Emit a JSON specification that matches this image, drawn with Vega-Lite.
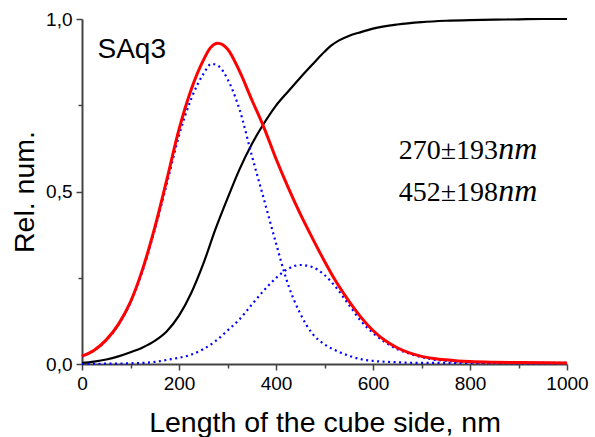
{
  "$schema": "https://vega.github.io/schema/vega-lite/v6.json",
  "width": 485,
  "height": 345,
  "autosize": "none",
  "padding": {"left": 82, "top": 19, "right": 28, "bottom": 73},
  "background": "white",
  "config": {"view": {"stroke": null}},
  "datasets": {
    "curves": [
      {"s": "cdf", "x": 0, "y": 0.003}, {"s": "cdf", "x": 25, "y": 0.007}, {"s": "cdf", "x": 50, "y": 0.013}, {"s": "cdf", "x": 75, "y": 0.022}, {"s": "cdf", "x": 100, "y": 0.034}, {"s": "cdf", "x": 125, "y": 0.048}, {"s": "cdf", "x": 150, "y": 0.067}, {"s": "cdf", "x": 175, "y": 0.095}, {"s": "cdf", "x": 200, "y": 0.14}, {"s": "cdf", "x": 225, "y": 0.205}, {"s": "cdf", "x": 250, "y": 0.29}, {"s": "cdf", "x": 275, "y": 0.39}, {"s": "cdf", "x": 300, "y": 0.48}, {"s": "cdf", "x": 325, "y": 0.565}, {"s": "cdf", "x": 350, "y": 0.637}, {"s": "cdf", "x": 375, "y": 0.697}, {"s": "cdf", "x": 400, "y": 0.749}, {"s": "cdf", "x": 425, "y": 0.79}, {"s": "cdf", "x": 450, "y": 0.83}, {"s": "cdf", "x": 475, "y": 0.868}, {"s": "cdf", "x": 500, "y": 0.905}, {"s": "cdf", "x": 515, "y": 0.924}, {"s": "cdf", "x": 530, "y": 0.938}, {"s": "cdf", "x": 550, "y": 0.951}, {"s": "cdf", "x": 575, "y": 0.962}, {"s": "cdf", "x": 600, "y": 0.972}, {"s": "cdf", "x": 650, "y": 0.984}, {"s": "cdf", "x": 700, "y": 0.991}, {"s": "cdf", "x": 750, "y": 0.995}, {"s": "cdf", "x": 800, "y": 0.997}, {"s": "cdf", "x": 850, "y": 0.998}, {"s": "cdf", "x": 900, "y": 0.999}, {"s": "cdf", "x": 950, "y": 1.0}, {"s": "cdf", "x": 1000, "y": 1.0},
      {"s": "p1", "x": 0, "y": 0.022}, {"s": "p1", "x": 25, "y": 0.039}, {"s": "p1", "x": 50, "y": 0.069}, {"s": "p1", "x": 75, "y": 0.113}, {"s": "p1", "x": 100, "y": 0.178}, {"s": "p1", "x": 125, "y": 0.27}, {"s": "p1", "x": 150, "y": 0.389}, {"s": "p1", "x": 175, "y": 0.523}, {"s": "p1", "x": 200, "y": 0.662}, {"s": "p1", "x": 225, "y": 0.768}, {"s": "p1", "x": 250, "y": 0.84}, {"s": "p1", "x": 267, "y": 0.87}, {"s": "p1", "x": 282, "y": 0.863}, {"s": "p1", "x": 300, "y": 0.826}, {"s": "p1", "x": 325, "y": 0.737}, {"s": "p1", "x": 350, "y": 0.605}, {"s": "p1", "x": 375, "y": 0.478}, {"s": "p1", "x": 400, "y": 0.35}, {"s": "p1", "x": 425, "y": 0.23}, {"s": "p1", "x": 450, "y": 0.146}, {"s": "p1", "x": 475, "y": 0.088}, {"s": "p1", "x": 500, "y": 0.057}, {"s": "p1", "x": 525, "y": 0.038}, {"s": "p1", "x": 550, "y": 0.024}, {"s": "p1", "x": 575, "y": 0.014}, {"s": "p1", "x": 600, "y": 0.009}, {"s": "p1", "x": 650, "y": 0.005}, {"s": "p1", "x": 700, "y": 0.003}, {"s": "p1", "x": 800, "y": 0.003}, {"s": "p1", "x": 900, "y": 0.003}, {"s": "p1", "x": 1000, "y": 0.003},
      {"s": "p2", "x": 0, "y": 0.0}, {"s": "p2", "x": 50, "y": 0.001}, {"s": "p2", "x": 100, "y": 0.002}, {"s": "p2", "x": 150, "y": 0.006}, {"s": "p2", "x": 175, "y": 0.012}, {"s": "p2", "x": 200, "y": 0.018}, {"s": "p2", "x": 225, "y": 0.027}, {"s": "p2", "x": 250, "y": 0.043}, {"s": "p2", "x": 275, "y": 0.066}, {"s": "p2", "x": 300, "y": 0.097}, {"s": "p2", "x": 325, "y": 0.13}, {"s": "p2", "x": 350, "y": 0.172}, {"s": "p2", "x": 375, "y": 0.213}, {"s": "p2", "x": 400, "y": 0.249}, {"s": "p2", "x": 425, "y": 0.276}, {"s": "p2", "x": 450, "y": 0.287}, {"s": "p2", "x": 475, "y": 0.281}, {"s": "p2", "x": 500, "y": 0.258}, {"s": "p2", "x": 525, "y": 0.22}, {"s": "p2", "x": 550, "y": 0.172}, {"s": "p2", "x": 575, "y": 0.125}, {"s": "p2", "x": 600, "y": 0.09}, {"s": "p2", "x": 625, "y": 0.063}, {"s": "p2", "x": 650, "y": 0.043}, {"s": "p2", "x": 675, "y": 0.03}, {"s": "p2", "x": 700, "y": 0.02}, {"s": "p2", "x": 725, "y": 0.013}, {"s": "p2", "x": 750, "y": 0.009}, {"s": "p2", "x": 800, "y": 0.005}, {"s": "p2", "x": 850, "y": 0.003}, {"s": "p2", "x": 900, "y": 0.002}, {"s": "p2", "x": 1000, "y": 0.002},
      {"s": "sum", "x": 0, "y": 0.023}, {"s": "sum", "x": 25, "y": 0.04}, {"s": "sum", "x": 50, "y": 0.07}, {"s": "sum", "x": 75, "y": 0.115}, {"s": "sum", "x": 100, "y": 0.18}, {"s": "sum", "x": 125, "y": 0.275}, {"s": "sum", "x": 150, "y": 0.395}, {"s": "sum", "x": 175, "y": 0.535}, {"s": "sum", "x": 200, "y": 0.68}, {"s": "sum", "x": 225, "y": 0.795}, {"s": "sum", "x": 250, "y": 0.88}, {"s": "sum", "x": 265, "y": 0.917}, {"s": "sum", "x": 280, "y": 0.93}, {"s": "sum", "x": 300, "y": 0.913}, {"s": "sum", "x": 325, "y": 0.848}, {"s": "sum", "x": 350, "y": 0.766}, {"s": "sum", "x": 375, "y": 0.686}, {"s": "sum", "x": 400, "y": 0.595}, {"s": "sum", "x": 425, "y": 0.512}, {"s": "sum", "x": 450, "y": 0.435}, {"s": "sum", "x": 475, "y": 0.365}, {"s": "sum", "x": 500, "y": 0.298}, {"s": "sum", "x": 525, "y": 0.236}, {"s": "sum", "x": 550, "y": 0.183}, {"s": "sum", "x": 575, "y": 0.136}, {"s": "sum", "x": 600, "y": 0.097}, {"s": "sum", "x": 625, "y": 0.068}, {"s": "sum", "x": 650, "y": 0.047}, {"s": "sum", "x": 675, "y": 0.032}, {"s": "sum", "x": 700, "y": 0.022}, {"s": "sum", "x": 725, "y": 0.016}, {"s": "sum", "x": 750, "y": 0.012}, {"s": "sum", "x": 775, "y": 0.009}, {"s": "sum", "x": 800, "y": 0.007}, {"s": "sum", "x": 850, "y": 0.005}, {"s": "sum", "x": 900, "y": 0.004}, {"s": "sum", "x": 1000, "y": 0.003}
    ],
    "labels": [
      {"k": "name", "t": "SAq3", "x": 32, "y": 0.887},
      {"k": "num", "t": "270±193", "x": 858, "y": 0.593},
      {"k": "unit", "t": "nm", "x": 858, "y": 0.593},
      {"k": "num", "t": "452±198", "x": 858, "y": 0.472},
      {"k": "unit", "t": "nm", "x": 858, "y": 0.472}
    ]
  },
  "encoding": {
    "x": {
      "field": "x", "type": "quantitative",
      "scale": {"domain": [0, 1000], "nice": false, "zero": false},
      "axis": {
        "title": "Length of the cube side, nm",
        "values": [0, 100, 200, 300, 400, 500, 600, 700, 800, 900, 1000],
        "labelExpr": "datum.value % 200 === 0 ? datum.label : ''",
        "format": "d",
        "grid": false,
        "domainColor": "#444", "domainWidth": 2,
        "tickColor": "#444", "tickWidth": 1.5,
        "tickSize": {"condition": {"test": "datum.value % 200 === 0", "value": 6}, "value": 4},
        "labelFont": "Liberation Sans", "labelFontSize": 19, "labelColor": "black", "labelPadding": 4,
        "labelFlush": false, "labelOverlap": false,
        "titleFont": "Liberation Sans", "titleFontSize": 28.5, "titleFontWeight": "normal", "titleColor": "black", "titlePadding": 15
      }
    },
    "y": {
      "field": "y", "type": "quantitative",
      "scale": {"domain": [0, 1], "nice": false},
      "axis": {
        "title": "Rel. num.",
        "values": [0, 0.25, 0.5, 0.75, 1],
        "labelExpr": "datum.value === 0 ? '0,0' : datum.value === 0.5 ? '0,5' : datum.value === 1 ? '1,0' : ''",
        "grid": false,
        "domainColor": "#444", "domainWidth": 2,
        "tickColor": "#444", "tickWidth": 1.5,
        "tickSize": {"condition": {"test": "datum.value === 0 || datum.value === 0.5 || datum.value === 1", "value": 6}, "value": 4},
        "labelFont": "Liberation Sans", "labelFontSize": 19, "labelColor": "black", "labelPadding": 4,
        "labelFlush": false, "labelOverlap": false,
        "titleFont": "Liberation Sans", "titleFontSize": 28.5, "titleFontWeight": "normal", "titleColor": "black", "titlePadding": 6
      }
    }
  },
  "layer": [
    {
      "data": {"name": "curves"},
      "transform": [{"filter": "datum.s === 'cdf'"}],
      "mark": {"type": "line", "color": "black", "strokeWidth": 2.2, "interpolate": "monotone"}
    },
    {
      "data": {"name": "curves"},
      "transform": [{"filter": "datum.s === 'p1' || datum.s === 'p2'"}],
      "mark": {"type": "line", "color": "#0000FF", "strokeWidth": 2.2, "strokeDash": [2, 3.5], "interpolate": "monotone"},
      "encoding": {"detail": {"field": "s"}}
    },
    {
      "data": {"name": "curves"},
      "transform": [{"filter": "datum.s === 'sum'"}],
      "mark": {"type": "line", "color": "#FF0000", "strokeWidth": 3, "interpolate": "monotone"}
    },
    {
      "data": {"name": "labels"},
      "transform": [{"filter": "datum.k === 'name'"}],
      "mark": {"type": "text", "align": "left", "baseline": "alphabetic", "font": "Liberation Sans", "fontSize": 28, "color": "black"},
      "encoding": {"text": {"field": "t"}}
    },
    {
      "data": {"name": "labels"},
      "transform": [{"filter": "datum.k === 'num'"}],
      "mark": {"type": "text", "align": "right", "baseline": "alphabetic", "font": "Liberation Serif", "fontSize": 28, "color": "black"},
      "encoding": {"text": {"field": "t"}}
    },
    {
      "data": {"name": "labels"},
      "transform": [{"filter": "datum.k === 'unit'"}],
      "mark": {"type": "text", "align": "left", "baseline": "alphabetic", "font": "Liberation Serif", "fontStyle": "italic", "fontSize": 32, "color": "black"},
      "encoding": {"text": {"field": "t"}}
    }
  ]
}
